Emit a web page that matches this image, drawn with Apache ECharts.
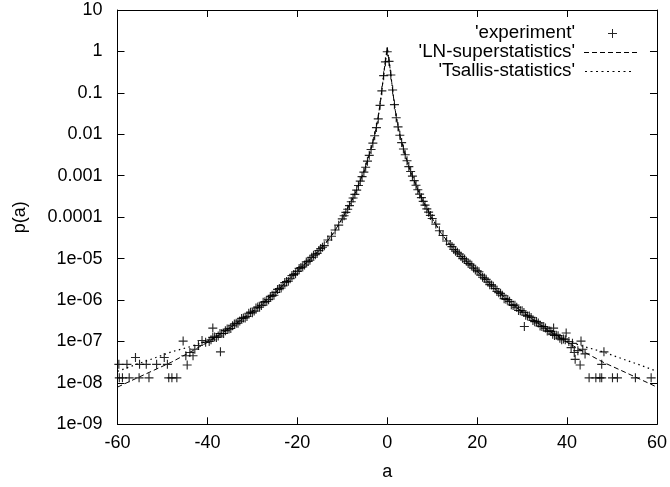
<!DOCTYPE html>
<html>
<head>
<meta charset="utf-8">
<script src="https://cdn.jsdelivr.net/npm/echarts@6/dist/echarts.min.js"></script>
<style>
html,body{margin:0;padding:0;background:#fff;}
#chart{width:670px;height:487px;}
</style>
</head>
<body>
<div id="chart"></div>
<script>
// ---- Data ----
var seriesNames = ["'experiment'", "'LN-superstatistics'", "'Tsallis-statistics'"];
var xTicks = [-60, -40, -20, 0, 20, 40, 60];
var yTickLabels = ['1e-09','1e-08','1e-07','1e-06','1e-05','0.0001','0.001','0.01','0.1','1','10'];

// experiment: [a, p(a)]
var expCenter = [
  [0, 0.98],
  [0.4, 0.575], [0.8, 0.27], [1.2, 0.117], [1.6, 0.052], [2.0, 0.025], [2.4, 0.0151], [2.8, 0.0095],
  [3.2, 0.0063], [3.6, 0.0044], [4.0, 0.0032], [4.4, 0.0023], [4.8, 0.00166], [5.2, 0.00126], [5.6, 0.00098],
  [6.0, 7.6e-4], [6.4, 5.9e-4], [6.8, 4.6e-4], [7.2, 3.6e-4], [7.6, 2.95e-4], [8.0, 2.4e-4], [8.4, 1.95e-4],
  [8.8, 1.58e-4], [9.2, 1.32e-4], [9.6, 1.10e-4], [10.0, 9.3e-5],
  [-0.4, 0.56], [-0.8, 0.26], [-1.2, 0.112], [-1.6, 0.050], [-2.0, 0.0235], [-2.4, 0.0145], [-2.8, 0.0092],
  [-3.2, 0.0061], [-3.6, 0.0043], [-4.0, 0.0031], [-4.4, 0.00225], [-4.8, 0.0016], [-5.2, 0.00122], [-5.6, 0.00095],
  [-6.0, 7.4e-4], [-6.4, 5.8e-4], [-6.8, 4.5e-4], [-7.2, 3.55e-4], [-7.6, 2.9e-4], [-8.0, 2.35e-4], [-8.4, 1.9e-4],
  [-8.8, 1.55e-4], [-9.2, 1.3e-4], [-9.6, 1.08e-4], [-10.0, 9.1e-5]
];
var expRight = [
  [10.8, 6.8e-5], [11.6, 4.7e-5], [12.4, 3.6e-5], [13.2, 2.65e-5], [14.0, 2.2e-5], [14.8, 1.66e-5], [15.6, 1.42e-5],
  [16.4, 1.12e-5], [17.2, 9.8e-6], [18.0, 7.6e-6], [18.8, 6.9e-6], [19.6, 5.3e-6], [20.4, 4.8e-6], [21.2, 3.55e-6],
  [22.0, 3.15e-6], [22.8, 2.35e-6], [23.6, 2.15e-6], [24.4, 1.6e-6], [25.2, 1.45e-6], [26.0, 1.08e-6], [26.8, 1.03e-6],
  [27.6, 7.7e-7], [28.4, 7.5e-7], [29.2, 5.6e-7], [30.0, 5.5e-7], [30.8, 4.3e-7], [31.6, 4.1e-7], [32.4, 3.2e-7],
  [33.2, 3.05e-7], [34.0, 2.35e-7], [34.8, 2.3e-7], [35.6, 1.78e-7], [36.4, 1.75e-7], [37.2, 1.4e-7], [38.0, 1.38e-7],
  [38.8, 1.1e-7], [39.6, 1.1e-7],
  [14.4, 1.95e-5], [15.2, 1.5e-5], [16.0, 1.3e-5], [16.8, 1.0e-5], [17.6, 8.6e-6], [18.4, 7.4e-6], [19.2, 5.9e-6],
  [20.0, 5.1e-6], [20.8, 4.0e-6], [21.6, 3.4e-6], [22.4, 2.7e-6], [23.2, 2.3e-6], [24.0, 1.9e-6], [24.8, 1.5e-6],
  [25.6, 1.3e-6], [26.4, 1.04e-6], [27.2, 9.3e-7], [28.0, 7.4e-7], [28.8, 6.7e-7], [29.6, 5.5e-7], [30.4, 5.0e-7],
  [31.2, 4.1e-7], [32.0, 3.8e-7], [32.8, 3.0e-7], [33.6, 2.8e-7], [34.4, 2.3e-7], [35.2, 2.1e-7], [36.0, 1.8e-7],
  [36.8, 1.5e-7], [37.6, 1.42e-7], [38.4, 1.2e-7], [39.2, 1.15e-7],
  [37.0, 2.1e-7], [39.8, 1.6e-7], [30.5, 2.3e-7], [40.4, 1.0e-7], [40.9, 7.1e-8], [41.2, 9e-8], [41.6, 5.4e-8],
  [41.8, 3.7e-8], [42.4, 6.0e-8], [42.9, 2.7e-8], [43.1, 1.02e-7], [43.5, 6.5e-8], [44.0, 5.0e-8], [44.9, 1.32e-8],
  [46.4, 1.32e-8], [47.3, 1.32e-8], [47.7, 1.32e-8], [47.7, 2.8e-8], [48.2, 5.6e-8], [50.1, 1.32e-8], [51.2, 1.32e-8],
  [55.2, 1.32e-8], [58.7, 1.32e-8]
];
var expLeft = [
  [-10.8, 6.4e-5], [-11.6, 4.9e-5], [-12.4, 3.45e-5], [-13.2, 2.8e-5], [-14.0, 2.05e-5], [-14.8, 1.75e-5], [-15.6, 1.33e-5],
  [-16.4, 1.2e-5], [-17.2, 9.1e-6], [-18.0, 8.3e-6], [-18.8, 6.3e-6], [-19.6, 5.8e-6], [-20.4, 4.3e-6], [-21.2, 3.9e-6],
  [-22.0, 2.85e-6], [-22.8, 2.65e-6], [-23.6, 1.95e-6], [-24.4, 1.8e-6], [-25.2, 1.3e-6], [-26.0, 1.22e-6], [-26.8, 9.2e-7],
  [-27.6, 8.8e-7], [-28.4, 6.7e-7], [-29.2, 6.4e-7], [-30.0, 4.9e-7], [-30.8, 4.8e-7], [-31.6, 3.7e-7], [-32.4, 3.6e-7],
  [-33.2, 2.75e-7], [-34.0, 2.65e-7], [-34.8, 2.05e-7], [-35.6, 2.0e-7], [-36.4, 1.55e-7], [-37.2, 1.55e-7], [-38.0, 1.25e-7],
  [-38.8, 1.25e-7], [-39.6, 1.0e-7],
  [-14.4, 1.88e-5], [-15.2, 1.57e-5], [-16.0, 1.24e-5], [-16.8, 1.07e-5], [-17.6, 8.5e-6], [-18.4, 7.0e-6], [-19.2, 6.1e-6],
  [-20.0, 4.9e-6], [-20.8, 4.15e-6], [-21.6, 3.25e-6], [-22.4, 2.8e-6], [-23.2, 2.2e-6], [-24.0, 1.9e-6], [-24.8, 1.52e-6],
  [-25.6, 1.3e-6], [-26.4, 1.02e-6], [-27.2, 9.1e-7], [-28.0, 7.4e-7], [-28.8, 6.8e-7], [-29.6, 5.4e-7], [-30.4, 5.1e-7],
  [-31.2, 4.0e-7], [-32.0, 3.7e-7], [-32.8, 3.1e-7], [-33.6, 2.75e-7], [-34.4, 2.4e-7], [-35.2, 2.0e-7], [-36.0, 1.82e-7],
  [-36.8, 1.55e-7], [-37.6, 1.35e-7], [-38.4, 1.28e-7], [-39.2, 1.1e-7],
  [-38.8, 2.1e-7], [-37.1, 5.6e-8], [-40.4, 9.5e-8], [-41.2, 1.05e-7], [-42.0, 8e-8], [-42.8, 6.5e-8], [-43.2, 4.5e-8],
  [-43.9, 5.4e-8], [-44.5, 2.7e-8], [-45.4, 1.02e-7], [-44.8, 4.5e-8], [-46.8, 1.32e-8], [-47.9, 1.32e-8], [-48.6, 1.32e-8],
  [-48.9, 2.8e-8], [-49.6, 4.1e-8], [-51.3, 2.8e-8], [-53.0, 1.32e-8], [-53.6, 2.8e-8], [-55.1, 2.8e-8], [-55.2, 1.32e-8],
  [-56.0, 4.1e-8], [-57.4, 1.32e-8], [-57.9, 2.8e-8], [-58.9, 1.32e-8], [-59.6, 1.32e-8], [-59.7, 2.8e-8]
];

// model curves
var curveA = [-60, -56, -52, -48, -44, -40, -36, -32, -28, -24, -20, -18, -16, -14, -12, -10, -8, -7, -6, -5, -4, -3,
  -2.5, -2, -1.5, -1, -0.75, -0.5, -0.25, 0, 0.25, 0.5, 0.75, 1, 1.5, 2, 2.5, 3, 4, 5, 6, 7, 8, 10, 12, 14, 16, 18, 20,
  24, 28, 32, 36, 40, 44, 48, 52, 56, 60];
var lnP = [7.9e-9, 1.26e-8, 2.0e-8, 3.16e-8, 5.4e-8, 9.5e-8, 1.78e-7, 3.63e-7, 7.6e-7, 1.86e-6, 5.0e-6, 7.9e-6, 1.26e-5,
  2.14e-5, 4.07e-5, 9.3e-5, 2.4e-4, 4.07e-4, 7.6e-4, 1.41e-3, 3.2e-3, 7.8e-3, 0.0138, 0.0263, 0.063, 0.178, 0.30, 0.50,
  0.76, 1.26, 0.76, 0.50, 0.30, 0.178, 0.063, 0.0263, 0.0138, 7.8e-3, 3.2e-3, 1.41e-3, 7.6e-4, 4.07e-4, 2.4e-4, 9.3e-5,
  4.07e-5, 2.14e-5, 1.26e-5, 7.9e-6, 5.0e-6, 1.86e-6, 7.6e-7, 3.63e-7, 1.78e-7, 9.5e-8, 5.4e-8, 3.16e-8, 2.0e-8,
  1.26e-8, 7.9e-9];
var tsP = [1.9e-8, 2.75e-8, 3.9e-8, 5.6e-8, 7.4e-8, 1.02e-7, 1.8e-7, 3.63e-7, 7.6e-7, 1.86e-6, 5.0e-6, 7.9e-6, 1.26e-5,
  2.14e-5, 4.07e-5, 9.3e-5, 2.4e-4, 4.07e-4, 7.6e-4, 1.41e-3, 3.2e-3, 7.8e-3, 0.0138, 0.0263, 0.063, 0.178, 0.30, 0.50,
  0.76, 1.26, 0.76, 0.50, 0.30, 0.178, 0.063, 0.0263, 0.0138, 7.8e-3, 3.2e-3, 1.41e-3, 7.6e-4, 4.07e-4, 2.4e-4, 9.3e-5,
  4.07e-5, 2.14e-5, 1.26e-5, 7.9e-6, 5.0e-6, 1.86e-6, 7.6e-7, 3.63e-7, 1.8e-7, 1.02e-7, 7.4e-8, 5.6e-8, 3.9e-8,
  2.75e-8, 1.9e-8];

// ---- Chart ----
var FONT = "'Liberation Sans', Arial, Helvetica, sans-serif";
var FS = 18;
var expData = expCenter.concat(expLeft, expRight);
var lnData = curveA.map(function (a, i) { return [a, lnP[i]]; });
var tsData = curveA.map(function (a, i) { return [a, tsP[i]]; });

var plusSym = 'path://M3.5,0H4.5V3.5H8V4.5H4.5V8H3.5V4.5H0V3.5H3.5Z';
// legend icons (box 0..61 x 0..10, drawing starts at x=4)
var plusIcon = 'path://M0,0M61,10M32,1H33V5H37V6H33V10H32V6H28V5H32Z';
var dashIcon = 'path://M0,0M61,10M4,5H9V6H4ZM12,5H17V6H12ZM20,5H25V6H20ZM28,5H33V6H28ZM36,5H41V6H36ZM44,5H49V6H44ZM52,5H57V6H52Z';
var dotIcon = 'path://M0,0M61,10M5,5H7V6H5ZM10.5,5H12.5V6H10.5ZM16,5H18V6H16ZM21.5,5H23.5V6H21.5ZM27,5H29V6H27ZM32.5,5H34.5V6H32.5ZM38,5H40V6H38ZM43.5,5H45.5V6H43.5ZM49,5H51V6H49Z';

function yFmt(v) {
  var e = Math.round(Math.log(v) / Math.LN10);
  return yTickLabels[e + 9] || '';
}

var chart = echarts.init(document.getElementById('chart'), null, {renderer: 'canvas'});
chart.setOption({
  animation: false,
  backgroundColor: '#fff',
  textStyle: {fontFamily: FONT, color: '#000'},
  grid: {left: 117.5, right: 8.5, top: 10, bottom: 62.7, show: false},
  legend: {
    orient: 'vertical', align: 'right', right: 29, top: 23.5, padding: 0, itemGap: 0,
    itemWidth: 61, itemHeight: 10, selectedMode: false,
    textStyle: {fontFamily: FONT, fontSize: 18.8, color: '#000', lineHeight: 16},
    data: [
      {name: seriesNames[0], icon: plusIcon, itemStyle: {color: '#000'}},
      {name: seriesNames[1], icon: dashIcon, itemStyle: {color: '#000'}},
      {name: seriesNames[2], icon: dotIcon, itemStyle: {color: '#000'}}
    ]
  },
  xAxis: [{
    type: 'value', min: -60, max: 60, interval: 20,
    name: 'a', nameLocation: 'middle', nameGap: 39,
    nameTextStyle: {fontFamily: FONT, fontSize: FS, color: '#000'},
    axisLine: {show: true, onZero: false, lineStyle: {color: '#000', width: 1}},
    axisTick: {show: true, inside: true, length: 7, lineStyle: {color: '#000'}},
    axisLabel: {fontFamily: FONT, fontSize: FS, color: '#000', margin: 10,
      formatter: function (v) { return xTicks.indexOf(v) >= 0 ? String(v) : ''; }},
    splitLine: {show: false}
  }, {
    type: 'value', position: 'top', min: -60, max: 60, interval: 20,
    axisLine: {show: true, onZero: false, lineStyle: {color: '#000', width: 1}},
    axisTick: {show: true, inside: true, length: 7, lineStyle: {color: '#000'}},
    axisLabel: {show: false}, splitLine: {show: false}
  }],
  yAxis: [{
    type: 'log', logBase: 10, min: 1e-9, max: 10, splitNumber: 10,
    name: 'p(a)', nameLocation: 'middle', nameGap: 88, nameRotate: 90,
    nameTextStyle: {fontFamily: FONT, fontSize: FS, color: '#000'},
    axisLine: {show: true, onZero: false, lineStyle: {color: '#000', width: 1}},
    axisTick: {show: true, inside: true, length: 7, lineStyle: {color: '#000'}},
    axisLabel: {fontFamily: FONT, fontSize: FS, color: '#000', margin: 15, formatter: yFmt},
    minorTick: {show: false}, splitLine: {show: false}
  }, {
    type: 'log', logBase: 10, min: 1e-9, max: 10, splitNumber: 10, position: 'right',
    axisLine: {show: true, onZero: false, lineStyle: {color: '#000', width: 1}},
    axisTick: {show: true, inside: true, length: 7, lineStyle: {color: '#000'}},
    axisLabel: {show: false}, splitLine: {show: false}
  }],
  series: [{
    name: seriesNames[0], type: 'scatter', data: expData,
    symbol: plusSym, symbolSize: 9,
    itemStyle: {color: '#000', opacity: 0.85}
  }, {
    name: seriesNames[1], type: 'line', data: lnData, showSymbol: false, symbol: 'none',
    lineStyle: {color: '#000', width: 1, type: [5, 3]}, itemStyle: {color: '#000'}, z: 3
  }, {
    name: seriesNames[2], type: 'line', data: tsData, showSymbol: false, symbol: 'none',
    lineStyle: {color: '#000', width: 1.2, type: [1.5, 3.5]}, itemStyle: {color: '#000'}, z: 3
  }]
});
</script>
</body>
</html>
